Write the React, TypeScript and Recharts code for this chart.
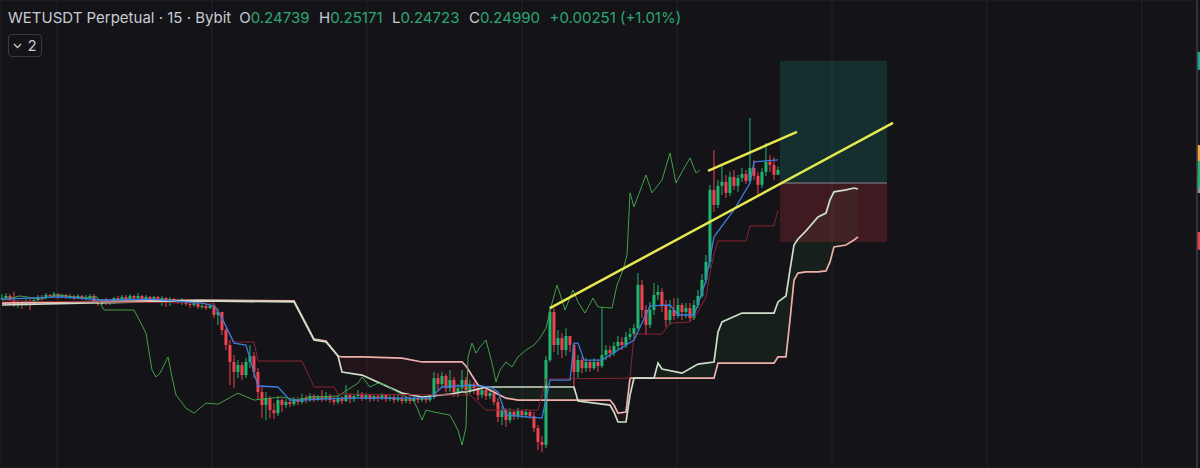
import React from 'react';
import {
  ComposedChart,
  Bar,
  Line,
  Area,
  XAxis,
  YAxis,
  CartesianGrid,
  ReferenceLine,
  ReferenceArea,
} from 'recharts';

const W = 1200;
const H = 468;
const BG = '#131318';
const UP = '#22b46e';
const DOWN = '#ee4450';

// header
const symbolLine = 'WETUSDT Perpetual · 15 · Bybit';
const ohlcLabels = ['O', 'H', 'L', 'C'];
const ohlcValues = ['0.24739', '0.25171', '0.24723', '0.24990'];
const changeText = '+0.00251 (+1.01%)';

// 15m candles, index 0..194. open of each bar = previous close
const firstOpen = 0.1828;
// [high, low, close]
const candles: [number, number, number][] = [
  [0.1854, 0.1823, 0.1833], [0.1859, 0.1828, 0.1844], [0.1854, 0.1818, 0.1823], [0.1865, 0.1787, 0.1797], [0.1823, 0.1781, 0.1813],
  [0.1823, 0.1776, 0.1797], [0.1828, 0.1792, 0.1818], [0.1833, 0.1771, 0.1802], [0.1839, 0.1797, 0.1823], [0.1849, 0.1818, 0.1839],
  [0.1849, 0.1823, 0.1833], [0.1859, 0.1828, 0.1849], [0.1854, 0.1833, 0.1844], [0.1865, 0.1839, 0.1854], [0.1859, 0.1828, 0.1839],
  [0.1854, 0.1833, 0.1849], [0.1854, 0.1828, 0.1839], [0.1854, 0.1828, 0.1844], [0.1849, 0.1823, 0.1833], [0.1854, 0.1828, 0.1844],
  [0.1849, 0.1823, 0.1833], [0.1849, 0.1823, 0.1839], [0.1854, 0.1828, 0.1844], [0.1854, 0.1807, 0.1818], [0.1823, 0.1792, 0.1802],
  [0.1828, 0.1797, 0.1823], [0.1833, 0.1797, 0.1807], [0.1823, 0.1797, 0.1813], [0.1839, 0.1802, 0.1833], [0.1844, 0.1818, 0.1823],
  [0.1849, 0.1818, 0.1839], [0.1849, 0.1818, 0.1828], [0.1854, 0.1823, 0.1844], [0.1849, 0.1823, 0.1833], [0.1859, 0.1828, 0.1844],
  [0.1849, 0.1818, 0.1828], [0.1849, 0.1823, 0.1839], [0.1844, 0.1818, 0.1828], [0.1844, 0.1823, 0.1839], [0.1844, 0.1813, 0.1823],
  [0.1844, 0.1792, 0.1833], [0.1839, 0.1787, 0.1813], [0.1839, 0.1792, 0.1828], [0.1833, 0.1807, 0.1818], [0.1823, 0.1802, 0.1813],
  [0.1833, 0.1797, 0.1823], [0.1823, 0.1792, 0.1802], [0.1813, 0.1781, 0.1797], [0.1813, 0.1787, 0.1807], [0.1813, 0.1776, 0.1787],
  [0.1802, 0.1776, 0.1792], [0.1797, 0.1771, 0.1781], [0.1802, 0.1776, 0.1792], [0.1807, 0.1729, 0.1745], [0.1781, 0.1693, 0.1761],
  [0.1761, 0.1641, 0.1667], [0.1677, 0.1563, 0.1589], [0.1615, 0.1381, 0.1501], [0.1537, 0.1365, 0.1449], [0.1511, 0.1417, 0.1485],
  [0.1501, 0.1407, 0.1433], [0.1521, 0.1417, 0.1501], [0.1589, 0.1469, 0.1532], [0.1553, 0.1417, 0.1449], [0.1469, 0.1303, 0.1345],
  [0.1381, 0.1209, 0.1277], [0.1345, 0.1199, 0.1313], [0.1324, 0.1209, 0.1251], [0.1287, 0.1204, 0.1235], [0.1324, 0.1220, 0.1303],
  [0.1313, 0.1241, 0.1277], [0.1308, 0.1261, 0.1293], [0.1313, 0.1267, 0.1282], [0.1319, 0.1272, 0.1303], [0.1319, 0.1277, 0.1293],
  [0.1334, 0.1282, 0.1313], [0.1329, 0.1287, 0.1303], [0.1339, 0.1293, 0.1324], [0.1334, 0.1293, 0.1308], [0.1329, 0.1298, 0.1319],
  [0.1355, 0.1293, 0.1308], [0.1345, 0.1298, 0.1324], [0.1334, 0.1287, 0.1303], [0.1319, 0.1277, 0.1293], [0.1329, 0.1282, 0.1313],
  [0.1324, 0.1282, 0.1298], [0.1381, 0.1293, 0.1329], [0.1339, 0.1287, 0.1308], [0.1334, 0.1293, 0.1324], [0.1355, 0.1313, 0.1334],
  [0.1345, 0.1298, 0.1313], [0.1339, 0.1303, 0.1329], [0.1334, 0.1293, 0.1308], [0.1334, 0.1298, 0.1324], [0.1334, 0.1293, 0.1313],
  [0.1339, 0.1303, 0.1329], [0.1334, 0.1293, 0.1308], [0.1334, 0.1298, 0.1319], [0.1329, 0.1287, 0.1303], [0.1329, 0.1293, 0.1313],
  [0.1329, 0.1282, 0.1298], [0.1324, 0.1287, 0.1308], [0.1324, 0.1282, 0.1298], [0.1329, 0.1293, 0.1313], [0.1324, 0.1287, 0.1303],
  [0.1324, 0.1293, 0.1313], [0.1324, 0.1287, 0.1303], [0.1329, 0.1293, 0.1319], [0.1449, 0.1308, 0.1417], [0.1443, 0.1355, 0.1386],
  [0.1449, 0.1365, 0.1428], [0.1438, 0.1345, 0.1365], [0.1459, 0.1345, 0.1407], [0.1423, 0.1319, 0.1345], [0.1386, 0.1319, 0.1365],
  [0.1459, 0.1345, 0.1407], [0.1423, 0.1329, 0.1355], [0.1407, 0.1334, 0.1386], [0.1397, 0.1334, 0.1365], [0.1381, 0.1303, 0.1329],
  [0.1376, 0.1313, 0.1355], [0.1371, 0.1303, 0.1324], [0.1365, 0.1308, 0.1339], [0.1355, 0.1277, 0.1293], [0.1313, 0.1189, 0.1215],
  [0.1272, 0.1173, 0.1251], [0.1261, 0.1163, 0.1199], [0.1261, 0.1183, 0.1241], [0.1251, 0.1199, 0.1220], [0.1261, 0.1204, 0.1246],
  [0.1251, 0.1209, 0.1225], [0.1256, 0.1209, 0.1241], [0.1251, 0.1204, 0.1220], [0.1241, 0.1137, 0.1157], [0.1173, 0.1043, 0.1085],
  [0.1116, 0.1033, 0.1069], [0.1532, 0.1053, 0.1511], [0.1792, 0.1501, 0.1761], [0.1781, 0.1553, 0.1589], [0.1667, 0.1537, 0.1625],
  [0.1651, 0.1521, 0.1563], [0.1677, 0.1532, 0.1636], [0.1636, 0.1553, 0.1589], [0.1599, 0.1355, 0.1449], [0.1537, 0.1417, 0.1511],
  [0.1527, 0.1443, 0.1469], [0.1521, 0.1449, 0.1501], [0.1511, 0.1449, 0.1469], [0.1521, 0.1459, 0.1501], [0.1516, 0.1449, 0.1480],
  [0.1787, 0.1469, 0.1537], [0.1589, 0.1511, 0.1563], [0.1584, 0.1521, 0.1547], [0.1605, 0.1532, 0.1584], [0.1636, 0.1563, 0.1605],
  [0.1631, 0.1563, 0.1589], [0.1657, 0.1573, 0.1631], [0.1677, 0.1615, 0.1646], [0.1698, 0.1625, 0.1677], [0.1963, 0.1667, 0.1901],
  [0.1927, 0.1729, 0.1771], [0.1797, 0.1641, 0.1693], [0.1813, 0.1677, 0.1771], [0.1911, 0.1745, 0.1849], [0.1901, 0.1823, 0.1865],
  [0.1885, 0.1761, 0.1797], [0.1823, 0.1683, 0.1719], [0.1823, 0.1693, 0.1771], [0.1833, 0.1719, 0.1740], [0.1833, 0.1729, 0.1797],
  [0.1807, 0.1719, 0.1761], [0.1807, 0.1729, 0.1781], [0.1807, 0.1709, 0.1729], [0.1823, 0.1719, 0.1797], [0.1875, 0.1781, 0.1844],
  [0.1958, 0.1833, 0.1927], [0.2057, 0.1906, 0.2021], [0.2421, 0.1989, 0.2395], [0.2603, 0.2281, 0.2317], [0.2447, 0.2301, 0.2416],
  [0.2525, 0.2369, 0.2437], [0.2473, 0.2353, 0.2379], [0.2489, 0.2364, 0.2463], [0.2499, 0.2395, 0.2416], [0.2473, 0.2385, 0.2457],
  [0.2509, 0.2437, 0.2478], [0.2499, 0.2426, 0.2442], [0.2769, 0.2431, 0.2509], [0.2551, 0.2447, 0.2468], [0.2489, 0.2369, 0.2421],
  [0.2509, 0.2405, 0.2489], [0.2639, 0.2468, 0.2541], [0.2577, 0.2489, 0.2525], [0.2567, 0.2447, 0.24739], [0.25171, 0.24723, 0.2499],
];

// ichimoku lines, [bar index, price]
const tenkan: [number, number][] = [
  [0, 0.1828], [15, 0.1839], [25, 0.1823], [37, 0.1828], [50, 0.1807], [53, 0.1792], [55, 0.1729], [58, 0.1599],
  [61, 0.1589], [64, 0.1376], [69, 0.1371], [72, 0.1303], [75, 0.1303], [85, 0.1313], [107, 0.1313], [110, 0.1371],
  [117, 0.1381], [122, 0.1371], [124, 0.1345], [126, 0.1225], [135, 0.1209], [137, 0.1407], [142, 0.1407], [143, 0.1599],
  [144, 0.1599], [145.5, 0.1511], [150, 0.1511], [158, 0.1615], [160, 0.1703], [162, 0.1792], [167, 0.1797], [169, 0.1745],
  [173, 0.1745], [175, 0.1859], [176, 0.1927], [178, 0.2151], [183, 0.2291], [187, 0.2431], [188, 0.2541], [194, 0.2551],
];

const kijun: [number, number][] = [
  [0, 0.1818], [53, 0.1807], [58, 0.1605], [63, 0.1605], [64, 0.1506], [75, 0.1506], [78, 0.1371], [83, 0.1371],
  [84, 0.1334], [117, 0.1329], [121, 0.1251], [134, 0.1251], [136, 0.1412], [157, 0.1417], [158, 0.1646], [165, 0.1646],
  [167, 0.1703], [172, 0.1709], [174, 0.1761], [176, 0.1839], [177, 0.1963], [178, 0.2062], [179, 0.2130], [186, 0.2130],
  [187, 0.2208], [193, 0.2208], [194, 0.2291],
];

const chikou: [number, number][] = [
  [0, 0.1823], [4.5, 0.1844], [9.5, 0.1828], [14.5, 0.1849], [19.5, 0.1833], [23.75, 0.1839], [24.5, 0.1807], [25.5, 0.1771],
  [33, 0.1771], [36, 0.1651], [37.5, 0.1459], [38.5, 0.1423], [39.5, 0.1443], [41.5, 0.1527], [42.5, 0.1423], [43.5, 0.1329],
  [46, 0.1261], [48, 0.1235], [51, 0.1287], [54, 0.1282], [59, 0.1339], [63, 0.1303], [70, 0.1319], [74, 0.1303],
  [77, 0.1319], [84, 0.1324], [89, 0.1391], [90, 0.1423], [92, 0.1371], [94, 0.1391], [96, 0.1381], [98, 0.1355],
  [103, 0.1298], [104, 0.1251], [105, 0.1199], [106, 0.1251], [108, 0.1241], [112, 0.1225], [114, 0.1147], [115, 0.1069],
  [116, 0.1163], [116.5, 0.1527], [117.5, 0.1599], [118.5, 0.1547], [119.5, 0.1579], [121, 0.1615], [122.5, 0.1495], [123.5, 0.1397],
  [124.5, 0.1459], [126, 0.1501], [127.5, 0.1475], [129, 0.1527], [131, 0.1563], [133, 0.1589], [134.5, 0.1625], [136, 0.1677],
  [137.5, 0.1807], [138.75, 0.1901], [139.75, 0.1839], [140.75, 0.1771], [142.75, 0.1875], [144, 0.1813], [145.75, 0.1755], [147.75, 0.1833],
  [149, 0.1787], [152.5, 0.1781], [153.75, 0.1901], [155.25, 0.1979], [156.25, 0.2057], [157, 0.2380], [158, 0.2307], [161, 0.2473],
  [162.5, 0.2380], [165, 0.2447], [167, 0.2587], [168.5, 0.2431], [170, 0.2489], [172, 0.2561], [173.5, 0.2483], [174.5, 0.2499],
];

// leading spans (already displaced forward)
const cloudIdx = [
  0, 19.5, 49.5, 73, 78, 81, 84, 85, 90, 100, 105, 112, 115, 116, 119, 121, 126, 129, 143, 144, 152, 153, 154, 156, 157,
  158, 163, 164, 165, 170, 174, 178, 179, 180, 185, 193, 194, 196, 197, 198, 199, 201, 204, 206, 207, 208, 211, 213, 214,
];
const spanA = [
  0.1797, 0.1807, 0.1818, 0.1813, 0.1615, 0.1605, 0.1532, 0.1449, 0.1433, 0.1339, 0.1319, 0.1334, 0.1345, 0.1345, 0.1360,
  0.1371, 0.1371, 0.1371, 0.1371, 0.1298, 0.1277, 0.1241, 0.1189, 0.1189, 0.1329, 0.1417, 0.1417, 0.1495, 0.1464, 0.1443,
  0.1490, 0.1501, 0.1657, 0.1709, 0.1755, 0.1755, 0.1813, 0.1844, 0.1979, 0.2109, 0.2140, 0.2182, 0.2255, 0.2275, 0.2343,
  0.2385, 0.2395, 0.2405, 0.2400,
];
const spanB = [
  0.1807, 0.1813, 0.1823, 0.1818, 0.1620, 0.1610, 0.1532, 0.1527, 0.1527, 0.1521, 0.1501, 0.1501, 0.1501, 0.1480, 0.1381,
  0.1365, 0.1313, 0.1303, 0.1303, 0.1303, 0.1303, 0.1277, 0.1235, 0.1241, 0.1417, 0.1417, 0.1417, 0.1417, 0.1417, 0.1417,
  0.1417, 0.1417, 0.1495, 0.1495, 0.1495, 0.1495, 0.1527, 0.1527, 0.1719, 0.1927, 0.1963, 0.1969, 0.1969, 0.1974, 0.2021,
  0.2099, 0.2109, 0.2135, 0.2151,
];

// drawings
const trendLow: [number, number][] = [[137, 0.1781], [222.75, 0.2743]];
const trendHigh: [number, number][] = [[176.5, 0.2494], [198.75, 0.2697]];
const boxStart = 194.5;
const boxEnd = 221.25;
const takeProfit = 0.3066;
const entryPrice = 0.2431;
const stopLoss = 0.2125;
const alertPrice = 0.2587;
const lastPrice = 0.2499;

// axes
const xDomain = [-0.5, 298.75];
const xTicks = [13.75, 52.5, 91.25, 130, 168.75, 207.5, 246.25, 285];
const yDomain = [0.095, 0.3382];
const yTicks = [0.1, 0.12, 0.14, 0.16, 0.18, 0.2, 0.22, 0.24, 0.26, 0.28, 0.3, 0.32];

const candleData = candles.map(([h, l, c], i) => {
  const open = i === 0 ? firstOpen : candles[i - 1][2];
  return { i, open, close: c, high: Math.max(h, open, c), low: Math.min(l, open, c) };
});
const toPts = (arr: [number, number][]) => arr.map(([i, v]) => ({ i, v }));
const cloudData = cloudIdx.map((i, k) => ({ i, a: spanA[k], b: spanB[k] }));

const BODY_W = 3;

function Candle(props: any) {
  const { x, y, width, height, payload } = props;
  if (x == null || !payload) return null;
  const { open, close, high, low } = payload;
  const color = close >= open ? UP : DOWN;
  const k = high > low ? height / (high - low) : 0;
  const top = y + (high - Math.max(open, close)) * k;
  const bh = Math.max(1, Math.abs(close - open) * k);
  const cx = x + width / 2;
  return (
    <g>
      <line x1={cx} x2={cx} y1={y} y2={y + height} stroke={color} strokeWidth={1} />
      <rect x={cx - BODY_W / 2} y={top} width={BODY_W} height={bh} fill={color} />
    </g>
  );
}

const edgeMark = (color: string, above: number, h: number) => (props: any) => {
  const vb = props.viewBox;
  if (!vb) return null;
  return <rect x={vb.x + vb.width + 0.5} y={vb.y - above} width={3} height={h} fill={color} />;
};

export default function App() {
  return (
    <div
      style={{
        position: 'fixed',
        left: 0,
        top: 0,
        width: W,
        height: H,
        background: BG,
        overflow: 'hidden',
      }}
    >
      <ComposedChart width={W} height={H} data={candleData} margin={{ top: 0, right: 0, bottom: 0, left: 0 }}>
        <CartesianGrid stroke="#222228" strokeWidth={1} />
        <XAxis type="number" dataKey="i" domain={xDomain} ticks={xTicks} allowDataOverflow hide />
        <YAxis
          type="number"
          orientation="right"
          width={3}
          domain={yDomain}
          ticks={yTicks}
          allowDataOverflow
          tick={false}
          tickLine={false}
          axisLine={{ stroke: '#4a4b52' }}
        />

        {/* kumo fill */}
        <Area
          data={cloudData}
          dataKey={(d: any) => (d.a >= d.b ? [d.b, d.a] : null)}
          type="linear"
          stroke="none"
          fill="rgba(76,175,80,0.13)"
          dot={false}
          activeDot={false}
          isAnimationActive={false}
        />
        <Area
          data={cloudData}
          dataKey={(d: any) => (d.a <= d.b ? [d.a, d.b] : null)}
          type="linear"
          stroke="none"
          fill="rgba(242,54,69,0.11)"
          dot={false}
          activeDot={false}
          isAnimationActive={false}
        />
        <Line data={cloudData} dataKey="b" type="linear" stroke="#f0b0aa" strokeWidth={1.7} dot={false} activeDot={false} isAnimationActive={false} />
        <Line data={cloudData} dataKey="a" type="linear" stroke="#cddec9" strokeWidth={1.7} dot={false} activeDot={false} isAnimationActive={false} />

        {/* position tool */}
        <ReferenceArea x1={boxStart} x2={boxEnd} y1={entryPrice} y2={takeProfit} fill="#22ab94" fillOpacity={0.18} stroke="none" />
        <ReferenceArea x1={boxStart} x2={boxEnd} y1={stopLoss} y2={entryPrice} fill="#f23645" fillOpacity={0.2} stroke="none" />
        <ReferenceLine
          segment={[{ x: boxStart, y: entryPrice }, { x: boxEnd, y: entryPrice }]}
          stroke="#858892"
          strokeWidth={1}
        />

        <Bar dataKey={(d: any) => [d.low, d.high]} barSize={3} shape={<Candle />} isAnimationActive={false} />

        <Line data={toPts(chikou)} dataKey="v" type="linear" stroke="#43a047" strokeWidth={1} dot={false} activeDot={false} isAnimationActive={false} />
        <Line data={toPts(kijun)} dataKey="v" type="linear" stroke="#8c2230" strokeWidth={1} dot={false} activeDot={false} isAnimationActive={false} />
        <Line data={toPts(tenkan)} dataKey="v" type="linear" stroke="#3b7ddd" strokeWidth={1.3} dot={false} activeDot={false} isAnimationActive={false} />

        <ReferenceLine
          segment={[{ x: trendLow[0][0], y: trendLow[0][1] }, { x: trendLow[1][0], y: trendLow[1][1] }]}
          stroke="#e6e84f"
          strokeWidth={2.5}
        />
        <ReferenceLine
          segment={[{ x: trendHigh[0][0], y: trendHigh[0][1] }, { x: trendHigh[1][0], y: trendHigh[1][1] }]}
          stroke="#e6e84f"
          strokeWidth={2.5}
        />

        {/* price scale labels peeking at the right edge */}
        <ReferenceLine y={takeProfit} stroke="none" label={edgeMark('#1fa88f', 9, 18)} />
        <ReferenceLine y={alertPrice} stroke="none" label={edgeMark('#f0a33a', 8, 16)} />
        <ReferenceLine y={entryPrice} stroke="none" label={edgeMark('#8f929b', 9, 19)} />
        <ReferenceLine y={lastPrice} stroke="none" label={edgeMark('#22b46e', 9, 27)} />
        <ReferenceLine y={stopLoss} stroke="none" label={edgeMark('#e8424e', 10, 18)} />
      </ComposedChart>

      <div
        style={{
          position: 'absolute',
          left: 8,
          top: 9,
          display: 'flex',
          alignItems: 'center',
          fontFamily: 'Inter, sans-serif',
          fontSize: 15,
          lineHeight: '18px',
          color: '#c9cbd1',
          whiteSpace: 'nowrap',
        }}
      >
        <span>{symbolLine}</span>
        {ohlcLabels.map((lab, k) => (
          <span key={lab} style={{ marginLeft: k === 0 ? 8 : 9.5 }}>
            {lab}
            <span style={{ color: '#2da772' }}>{ohlcValues[k]}</span>
          </span>
        ))}
        <span style={{ marginLeft: 9.5, color: '#2da772' }}>{changeText}</span>
      </div>

      <div
        style={{
          position: 'absolute',
          left: 8,
          top: 34,
          width: 34,
          height: 23,
          boxSizing: 'border-box',
          border: '1px solid #3a3b41',
          borderRadius: 4,
          display: 'flex',
          alignItems: 'center',
          justifyContent: 'center',
          gap: 5,
          fontFamily: 'Inter, sans-serif',
          fontSize: 15,
          color: '#c9cbd1',
        }}
      >
        <svg width="9" height="6" viewBox="0 0 9 6">
          <path d="M1 1 L4.5 4.5 L8 1" fill="none" stroke="#c9cbd1" strokeWidth="1.3" />
        </svg>
        <span>2</span>
      </div>
    </div>
  );
}
